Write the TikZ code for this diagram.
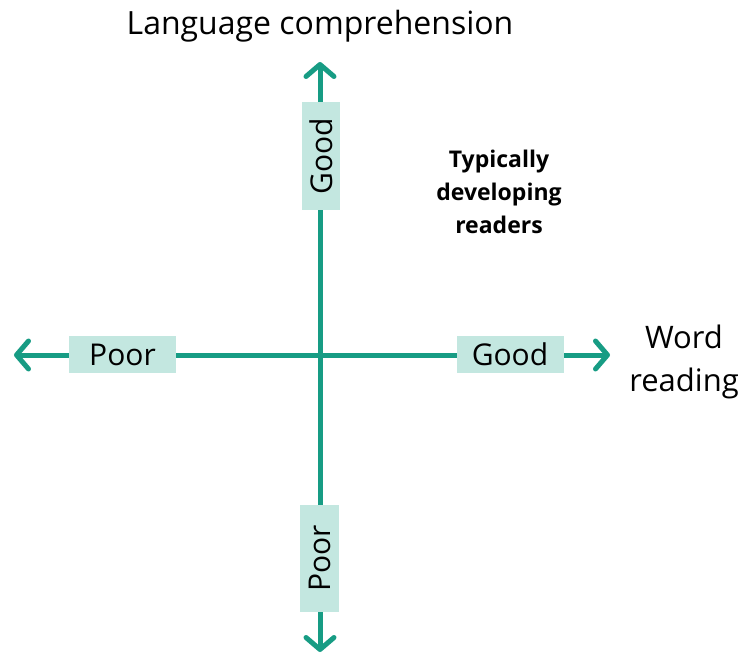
\documentclass[tikz,border=0pt]{standalone}
\usepackage{fontspec}
\setmainfont{Open Sans}
\usetikzlibrary{arrows.meta}
\definecolor{axisteal}{HTML}{179C84}
\definecolor{boxteal}{HTML}{C3E7E0}
\begin{document}
\begin{tikzpicture}[x=1pt,y=-1pt,
  axisline/.style={draw=axisteal,line width=5pt,line cap=round,
    -{Straight Barb[length=12pt,width=28pt,line width=5pt,line cap=round,round]}},
  hbox/.style={fill=boxteal,minimum width=107pt,minimum height=37pt,inner sep=0pt,font=\fontsize{30}{36}\selectfont},
  vbox/.style={hbox,rotate=90},
  title/.style={font=\fontsize{32}{38}\selectfont,align=center},
  inner/.style={font=\fontsize{23}{33}\selectfont\bfseries,align=center}]
\useasboundingbox (0,0) rectangle (744,658);
\coordinate (c) at (320,355);
\coordinate (top) at (320,62);
\coordinate (bot) at (320,652);
\coordinate (lft) at (14,355);
\coordinate (rgt) at (610,355);
\draw[axisline] (c) -- (top);
\draw[axisline] (c) -- (bot);
\draw[axisline] (c) -- (lft);
\draw[axisline] (c) -- (rgt);
\node[hbox] (poorL) at (122.5,354.5) {Poor};
\node[hbox] (goodR) at (510,354.5) {Good};
\node[vbox,minimum width=108pt,minimum height=38pt] (goodT) at (321,156) {Good};
\node[vbox,minimum width=107pt,minimum height=39pt] (poorB) at (319.5,558.5) {Poor};
\node[title] (lc) at (320,26) {Language comprehension};
\node[title,font=\fontsize{31}{43}\selectfont] (wr) at (684,362) {Word\\reading};
\node[inner] (tdr) at (499,192) {Typically\\developing\\readers};
\end{tikzpicture}
\end{document}
